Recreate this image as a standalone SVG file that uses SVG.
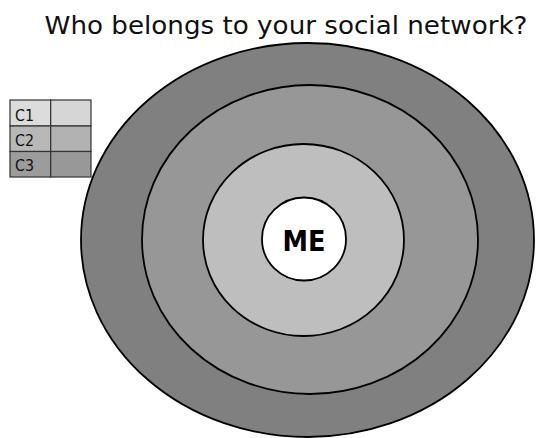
<svg xmlns="http://www.w3.org/2000/svg" width="536" height="438" viewBox="0 0 536 438">
<style>
.ring{stroke:#000;stroke-width:1.8}
.cell{stroke:#333;stroke-width:1.2}
.lbl{font-family:"DejaVu Sans",Verdana,sans-serif;font-size:15px;fill:#111}
</style>
<rect width="536" height="438" fill="#fff"/>
<text x="286" y="34" text-anchor="middle" font-family="DejaVu Sans, Verdana, sans-serif" font-size="25" fill="#111" textLength="483" lengthAdjust="spacingAndGlyphs">Who belongs to your social network?</text>
<g id="ring3"><ellipse class="ring" cx="307.5" cy="240" rx="226.5" ry="197" fill="#808080"/></g>
<g id="ring2"><ellipse class="ring" cx="310" cy="239.5" rx="168" ry="154.5" fill="#979797"/></g>
<g id="ring1"><ellipse class="ring" cx="303.5" cy="240" rx="100.5" ry="96" fill="#bebebe"/></g>
<g id="me">
<ellipse class="ring" cx="304" cy="239" rx="42" ry="41.5" fill="#fff"/>
<text x="304" y="251" text-anchor="middle" font-family="DejaVu Sans, Verdana, sans-serif" font-weight="bold" font-size="28" fill="#000" textLength="43" lengthAdjust="spacingAndGlyphs">ME</text>
</g>
<g id="legend">
<rect class="cell" x="10" y="100" width="40.7" height="26" fill="#dcdcdc"/>
<rect class="cell" x="50.7" y="100" width="40.3" height="26" fill="#d6d6d6"/>
<rect class="cell" x="10" y="126" width="40.7" height="25.5" fill="#b8b8b8"/>
<rect class="cell" x="50.7" y="126" width="40.3" height="25.5" fill="#b2b2b2"/>
<rect class="cell" x="10" y="151.5" width="40.7" height="25.5" fill="#9c9c9c"/>
<rect class="cell" x="50.7" y="151.5" width="40.3" height="25.5" fill="#989898"/>
<text class="lbl" x="15" y="121" textLength="19" lengthAdjust="spacingAndGlyphs">C1</text>
<text class="lbl" x="15" y="145.5" textLength="19" lengthAdjust="spacingAndGlyphs">C2</text>
<text class="lbl" x="15" y="171" textLength="19" lengthAdjust="spacingAndGlyphs">C3</text>
</g>
</svg>
